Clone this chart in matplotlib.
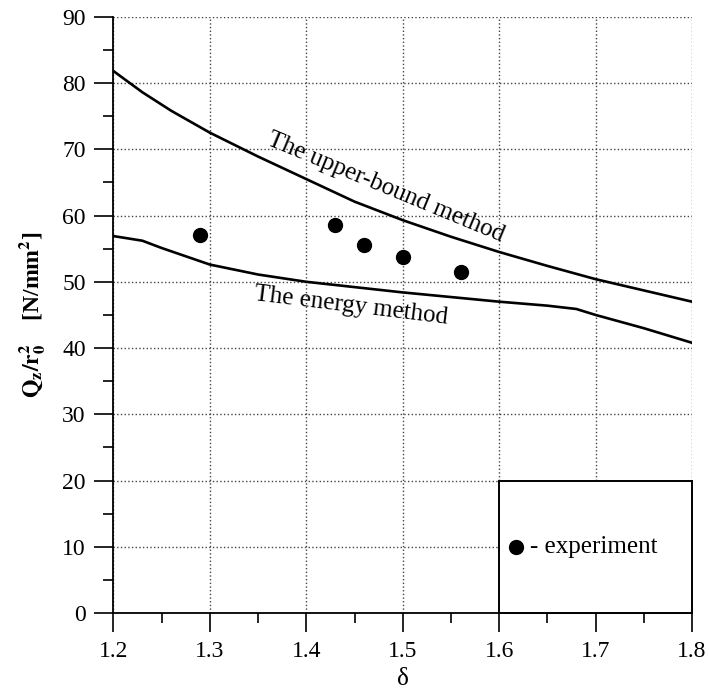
import matplotlib.pyplot as plt
from matplotlib.patches import Rectangle
from matplotlib.ticker import MultipleLocator, FormatStrFormatter

plt.rcParams['font.family'] = ['Liberation Serif', 'DejaVu Serif']
plt.rcParams['mathtext.fontset'] = 'stix'

delta_upper = [1.20, 1.23, 1.26, 1.30, 1.35, 1.40, 1.45, 1.50, 1.55, 1.60, 1.65, 1.70, 1.75, 1.80]
q_upper = [81.8, 78.6, 75.8, 72.5, 68.9, 65.5, 62.1, 59.3, 56.8, 54.5, 52.4, 50.4, 48.7, 47.0]

delta_energy = [1.20, 1.23, 1.25, 1.30, 1.35, 1.40, 1.45, 1.50, 1.55, 1.60, 1.65, 1.68, 1.70, 1.75, 1.80]
q_energy = [56.9, 56.2, 55.1, 52.6, 51.1, 50.0, 49.2, 48.4, 47.7, 47.0, 46.4, 45.9, 45.0, 43.0, 40.8]

delta_exp = [1.29, 1.43, 1.46, 1.50, 1.56]
q_exp = [57.0, 58.5, 55.6, 53.8, 51.5]

fig = plt.figure(figsize=(7.09, 6.96), dpi=100)
ax = fig.add_axes([0.16, 0.119, 0.816, 0.857])

ax.plot(delta_upper, q_upper, color='black', lw=1.9)
ax.plot(delta_energy, q_energy, color='black', lw=1.9)
ax.plot(delta_exp, q_exp, 'o', color='black', ms=10)

ax.set_xlim(1.2, 1.8)
ax.set_ylim(0, 90)
ax.xaxis.set_major_locator(MultipleLocator(0.1))
ax.xaxis.set_minor_locator(MultipleLocator(0.05))
ax.xaxis.set_major_formatter(FormatStrFormatter('%.1f'))
ax.yaxis.set_major_locator(MultipleLocator(10))
ax.yaxis.set_minor_locator(MultipleLocator(5))
ax.tick_params(which='major', direction='out', length=14, width=1.2, labelsize=17, pad=6)
ax.tick_params(which='minor', direction='out', length=7, width=1.2)

ax.grid(True, which='major', linestyle=':', color='#444444', lw=1.0)
for s in ['top', 'right']:
    ax.spines[s].set_visible(False)
for s in ['left', 'bottom']:
    ax.spines[s].set_linewidth(1.3)

ax.set_xlabel('δ', fontsize=18, labelpad=4)
ax.set_ylabel(r'$\mathbf{Q_z/r_0^2}$    [N/mm$\mathbf{^2}$]', fontsize=17,
              fontweight='bold', labelpad=10)

ax.text(1.482, 64.2, 'The upper-bound method', fontsize=18, rotation=-22.5,
        ha='center', va='center', rotation_mode='anchor')
ax.text(1.446, 46.4, 'The energy method', fontsize=18, rotation=-7,
        ha='center', va='center', rotation_mode='anchor')

# legenda w ramce
ax.add_patch(Rectangle((1.6, 0), 0.2, 20, fill=True, facecolor='white',
                       edgecolor='black', lw=1.4, zorder=3, clip_on=False))
ax.plot([1.618], [10], 'o', color='black', ms=10, zorder=4)
ax.text(1.632, 10, '- experiment', fontsize=18, va='center', ha='left', zorder=4)

fig.savefig('out.png', dpi=100)
